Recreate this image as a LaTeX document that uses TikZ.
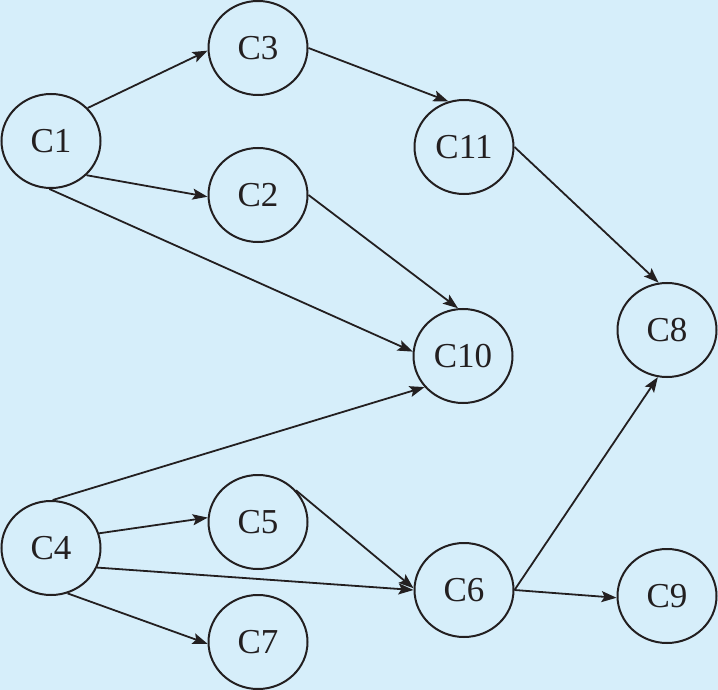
\documentclass[tikz,border=0pt]{standalone}
\usepackage{fontspec}
\setmainfont{Liberation Serif}
\usetikzlibrary{shapes.geometric,arrows.meta}
\definecolor{bg}{RGB}{214,238,250}
\definecolor{ink}{RGB}{35,31,32}
\tikzset{
  cnode/.style={ellipse,draw=ink,line width=2pt,minimum width=99pt,minimum height=94pt,inner sep=0pt,
    font=\fontsize{35}{40}\selectfont,text=ink},
  link/.style={draw=ink,line width=1.8pt,-{Stealth[length=15pt,width=11pt,inset=3pt]}}
}
\begin{document}
\begin{tikzpicture}[x=1pt,y=-1pt]
\fill[bg] (0,0) rectangle (718,690);
\useasboundingbox (0,0) rectangle (718,690);
\node[cnode] (C1) at (51,141) {C1};
\node[cnode] (C3) at (258,48) {C3};
\node[cnode] (C2) at (258,195) {C2};
\node[cnode] (C11) at (464,147) {C11};
\node[cnode] (C10) at (463,356) {C10};
\node[cnode] (C8) at (667,330) {C8};
\node[cnode] (C4) at (51,548) {C4};
\node[cnode] (C5) at (258,522) {C5};
\node[cnode] (C7) at (258,642) {C7};
\node[cnode] (C6) at (464,590) {C6};
\node[cnode] (C9) at (667,596) {C9};
\draw[link] (C1.42) -- (C3.183);
\draw[link] (C1.316) -- (C2.182);
\draw[link] (C1.268) -- (C10.175);
\draw[link] (C2.0) -- (C10.96);
\draw[link] (C3.0) -- (C11.109);
\draw[link] (C11.0) -- (C8.100);
\draw[link] (C4.88) -- (C10.219);
\draw[link] (C4.17) -- (C5.175);
\draw[link] (C4.337) -- (C6.180);
\draw[link] (C4.290) -- (C7.182);
\draw[link] (C5.40) -- (C6.178);
\draw[link] (C6.0) -- (C8.259);
\draw[link] (C6.0) -- (C9.182);
\end{tikzpicture}
\end{document}
